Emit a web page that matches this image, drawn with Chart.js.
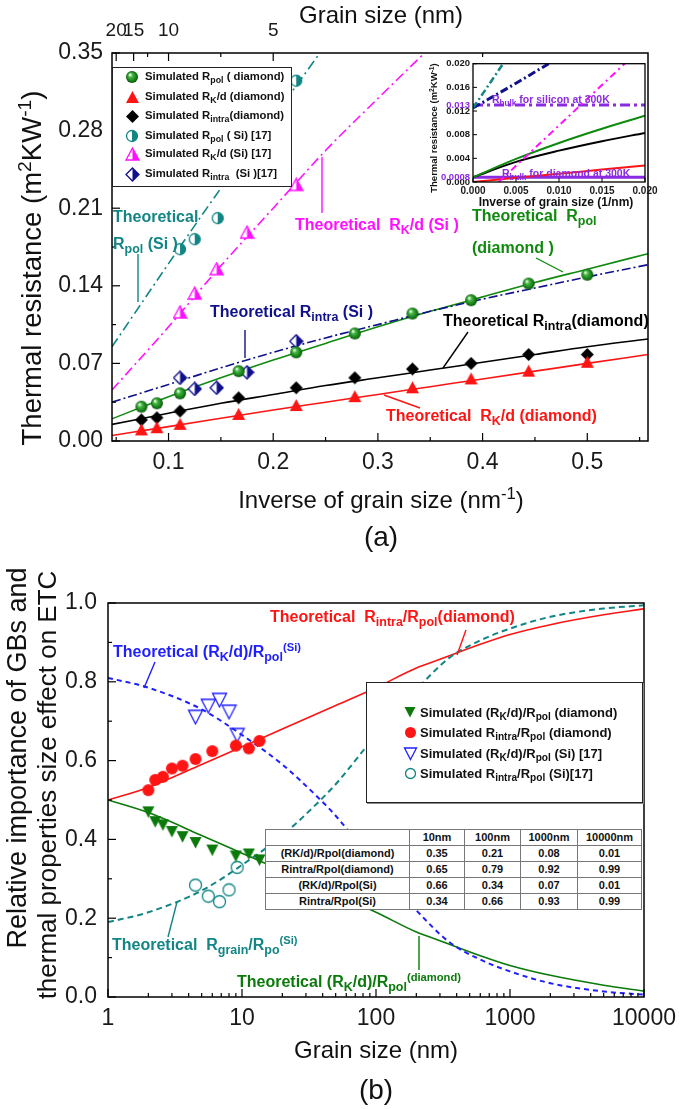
<!DOCTYPE html>
<html>
<head>
<meta charset="utf-8">
<script src="https://cdn.jsdelivr.net/npm/chart.js@4.4.1/dist/chart.umd.min.js"></script>
<style>
  body { margin: 0; background: #fff; }
  #page { position: relative; width: 685px; height: 1109px; overflow: hidden;
          font-family: "Liberation Sans", Arial, sans-serif; color: #111; }
  #page canvas { position: absolute; }
  .t { position: absolute; white-space: nowrap; line-height: 1; transform: translateY(-50%);
       font-weight: bold; font-size: 16px; }
  .c { position: absolute; white-space: nowrap; line-height: 1; transform: translate(-50%, -50%); }
  .rot { transform: translate(-50%, -50%) rotate(-90deg); }
  #page sub { font-size: 0.78em; vertical-align: -0.35em; line-height: 0; }
  #page sup { font-size: 0.7em; vertical-align: 0.55em; line-height: 0; }
  .box { position: absolute; background: #fff; border: 1px solid #222; box-sizing: border-box; }
  .row { position: absolute; white-space: nowrap; font-weight: bold; line-height: 1; transform: translateY(-50%); }
  #ratioTable { position: absolute; border-collapse: collapse; background: #fff; table-layout: fixed;
                font-weight: bold; font-size: 11px; border: 1.5px solid #444; }
  #ratioTable td { border: 1px solid #777; text-align: center; padding: 0; height: 15px; line-height: 1; }
</style>
</head>
<body>
<div id="page">
  <canvas id="chartA" width="685" height="560" style="left:0;top:0"></canvas>
  <canvas id="chartB" width="685" height="549" style="left:0;top:560px"></canvas>
  <canvas id="chartInset" width="245" height="160" style="left:420px;top:55px"></canvas>

  <svg width="685" height="1109" style="position:absolute;left:0;top:0">
    <g stroke-width="1.4">
      <line x1="138" y1="254" x2="138" y2="302" stroke="#138585"/>
      <line x1="322" y1="157" x2="322" y2="213" stroke="#ff10ff"/>
      <line x1="245" y1="330" x2="245" y2="358" stroke="#10108c"/>
      <line x1="468" y1="332" x2="443" y2="368" stroke="#000"/>
      <line x1="384" y1="395" x2="420" y2="408" stroke="#ff1414"/>
      <line x1="536" y1="258" x2="563" y2="272" stroke="#0f8a0f"/>
      <line x1="155" y1="662" x2="144" y2="688" stroke="#1e1eff"/>
      <line x1="466" y1="630" x2="457" y2="655" stroke="#ff1414"/>
      <line x1="177" y1="902" x2="168" y2="937" stroke="#138585"/>
      <line x1="419" y1="936" x2="419" y2="970" stroke="#0b7a0b"/>
    </g>
  </svg>

  <!-- panel (a) titles -->
  <div class="c" style="left:381px;top:15px;font-size:24px">Grain size (nm)</div>
  <div class="c" style="left:381px;top:500px;font-size:24px">Inverse of grain size (nm<sup>-1</sup>)</div>
  <div class="c" style="left:381px;top:537px;font-size:28px">(a)</div>
  <div class="c rot" style="left:32px;top:268px;font-size:27.5px">Thermal resistance (m<sup>2</sup>KW<sup>-1</sup>)</div>

  <!-- panel (a) annotations -->
  <div class="t" style="left:113px;top:217px;color:#138585">Theoretical</div>
  <div class="t" style="left:113px;top:244px;color:#138585">R<sub>pol</sub> (Si )</div>
  <div class="t" style="left:295px;top:225px;color:#ff10ff">Theoretical&nbsp; R<sub>K</sub>/d (Si )</div>
  <div class="t" style="left:472px;top:216px;color:#0f8a0f">Theoretical&nbsp; R<sub>pol</sub></div>
  <div class="t" style="left:472px;top:248px;color:#0f8a0f">(diamond )</div>
  <div class="t" style="left:210px;top:312px;color:#10108c">Theoretical R<sub>intra</sub> (Si )</div>
  <div class="t" style="left:443px;top:321px;color:#000">Theoretical R<sub>intra</sub>(diamond)</div>
  <div class="t" style="left:386px;top:416px;color:#ff1414">Theoretical&nbsp; R<sub>K</sub>/d (diamond)</div>

  <!-- inset texts -->
  <div class="t" style="left:492px;top:99px;color:#8a2be2;font-size:10.5px">R<sub>bulk</sub> for silicon at 300K</div>
  <div class="t" style="left:502px;top:173px;color:#8a2be2;font-size:10.5px">R<sub>bulk</sub> for diamond at 300K</div>
  <div class="c" style="left:556px;top:202px;font-size:12px;font-weight:bold">Inverse of grain size (1/nm)</div>
  <div class="c rot" style="left:434px;top:128px;font-size:9.5px;font-weight:bold">Thermal resistance (m<sup>2</sup>KW<sup>-1</sup>)</div>

  <div id="legendA" class="box" style="left:112px;top:67px;width:180px;height:120px"></div>

  <!-- panel (b) titles -->
  <div class="c" style="left:376px;top:1050px;font-size:24px">Grain size (nm)</div>
  <div class="c" style="left:376px;top:1090px;font-size:28px">(b)</div>
  <div class="c rot" style="left:17px;top:758px;font-size:27px">Relative importance of GBs and</div>
  <div class="c rot" style="left:47px;top:785px;font-size:26px">thermal properties size effect on ETC</div>

  <!-- panel (b) annotations -->
  <div class="t" style="left:270px;top:617px;color:#ff1414">Theoretical&nbsp; R<sub>intra</sub>/R<sub>pol</sub>(diamond)</div>
  <div class="t" style="left:113px;top:652px;color:#1e1eff">Theoretical (R<sub>K</sub>/d)/R<sub>pol</sub><sup>(Si)</sup></div>
  <div class="t" style="left:112px;top:945px;color:#138585">Theoretical&nbsp; R<sub>grain</sub>/R<sub>po</sub><sup>(Si)</sup></div>
  <div class="t" style="left:237px;top:982px;color:#0b7a0b">Theoretical (R<sub>K</sub>/d)/R<sub>pol</sub><sup>(diamond)</sup></div>

  <div id="legendB" class="box" style="left:366px;top:682px;width:277px;height:121px;box-shadow:1px 1px 0 #888"></div>
  <table id="ratioTable" style="left:265px;top:829px;width:376px"></table>
</div>

<script>
// ---------- panel (a): thermal resistance vs inverse grain size ----------
const invSizeSim = [0.0741, 0.0889, 0.111, 0.167, 0.222, 0.278, 0.333, 0.389, 0.444, 0.5];
const simRpolDiamond = [0.031, 0.034, 0.043, 0.063, 0.080, 0.097, 0.115, 0.127, 0.142, 0.150];
const simRkdDiamond = [0.010, 0.012, 0.015, 0.024, 0.032, 0.040, 0.048, 0.056, 0.063, 0.071];
const simRintraDiamond = [0.019, 0.021, 0.027, 0.039, 0.048, 0.057, 0.065, 0.070, 0.078, 0.078];

const invSizeSiPol = [0.111, 0.125, 0.147, 0.222];
const simRpolSi = [0.173, 0.182, 0.201, 0.325];
const invSizeSi = [0.111, 0.125, 0.146, 0.175, 0.222];
const simRkdSi = [0.116, 0.133, 0.155, 0.188, 0.231];
const simRintraSi = [0.057, 0.047, 0.048, 0.062, 0.090];

const invSizeTheory = [0.046, 0.1, 0.15, 0.2, 0.25, 0.3, 0.35, 0.4, 0.45, 0.5, 0.558];
const thRpolDiamond = [0.020, 0.040, 0.057, 0.073, 0.088, 0.103, 0.117, 0.130, 0.143, 0.155, 0.169];
const thRintraDiamond = [0.015, 0.025, 0.034, 0.042, 0.050, 0.057, 0.064, 0.071, 0.078, 0.085, 0.092];
const thRkdDiamond = [0.005, 0.013, 0.0205, 0.028, 0.035, 0.042, 0.049, 0.056, 0.063, 0.070, 0.078];
const thRintraSi = [0.035, 0.051, 0.066, 0.080, 0.093, 0.105, 0.117, 0.128, 0.138, 0.148, 0.159];
const invSizeThPolSi = [0.046, 0.1, 0.15, 0.2, 0.25];
const thRpolSi = [0.085, 0.160, 0.228, 0.292, 0.357];
const invSizeThKdSi = [0.046, 0.1, 0.15, 0.2, 0.25, 0.3, 0.35];
const thRkdSi = [0.046, 0.103, 0.158, 0.210, 0.262, 0.309, 0.355];

const xTicksA = [0.1, 0.2, 0.3, 0.4, 0.5];
const xMinorA = [0.05, 0.15, 0.25, 0.35, 0.45, 0.55];
const yTicksA = [0, 0.07, 0.14, 0.21, 0.28, 0.35];
const yMinorA = [0.035, 0.105, 0.175, 0.245, 0.315];
const topSizes = [20, 15, 10, 5];
const topMinorSizes = [12.5, 6.67, 2.5];

// inset
const insetX = [0, 0.005, 0.01, 0.015, 0.02];
const insetRpolDiamond = [0.0008, 0.0039, 0.0066, 0.0090, 0.0112];
const insetRintraDiamond = [0.0008, 0.0034, 0.0053, 0.0069, 0.0083];
const insetRkdDiamond = [0.0000, 0.0007, 0.0014, 0.0021, 0.0028];
const insetRpolSiX = [0, 0.0035];
const insetRpolSi = [0.0125, 0.0200];
const insetRintraSiX = [0, 0.005, 0.0088];
const insetRintraSi = [0.0125, 0.0167, 0.0200];
const insetRkdSiX = [0.003, 0.018];
const insetRkdSi = [0.0000, 0.0205];
const rBulkSi = 0.013;
const rBulkDiamond = 0.0008;
const insetXTicks = [0, 0.005, 0.01, 0.015, 0.02];
const insetYTicks = [0, 0.004, 0.008, 0.012, 0.016, 0.02];
const insetYMarks = [0.0008, 0.013];

// ---------- panel (b): relative importance vs grain size ----------
const sizeSimDiamond = [2.0, 2.25, 2.57, 3.0, 3.6, 4.5, 6.0, 9.0, 11.25, 13.5];
const simKdRatioDiamond = [0.470, 0.445, 0.437, 0.420, 0.407, 0.392, 0.373, 0.358, 0.363, 0.348];
const simIntraRatioDiamond = [0.525, 0.551, 0.559, 0.580, 0.587, 0.604, 0.624, 0.638, 0.631, 0.650];
const sizeSimSi = [4.5, 5.6, 6.8, 8.0, 9.2];
const simKdRatioSi = [0.711, 0.739, 0.754, 0.724, 0.665];
const simIntraRatioSi = [0.284, 0.256, 0.242, 0.272, 0.329];

const sizeTheoryDiamond = [1, 2, 5, 10, 20, 50, 100, 200, 300, 600, 1000, 2000, 5000, 10000];
const thIntraRatioDiamond = [0.50, 0.532, 0.59, 0.635, 0.68, 0.74, 0.785, 0.835, 0.857, 0.895, 0.92, 0.945, 0.97, 0.985];
const thKdRatioDiamond = [0.50, 0.468, 0.41, 0.365, 0.32, 0.26, 0.215, 0.165, 0.143, 0.105, 0.08, 0.055, 0.03, 0.015];
const sizeTheorySi = [1, 2, 5, 10, 20, 36, 50, 100, 200, 350, 600, 1000, 2000, 5000, 10000];
const thKdRatioSi = [0.81, 0.785, 0.73, 0.665, 0.59, 0.51, 0.46, 0.335, 0.22, 0.14, 0.095, 0.065, 0.035, 0.014, 0.006];
const thGrainRatioSi = [0.19, 0.215, 0.27, 0.335, 0.41, 0.49, 0.54, 0.665, 0.78, 0.86, 0.905, 0.935, 0.965, 0.986, 0.994];

const sizeTicksB = [1, 10, 100, 1000, 10000];
const sizeMinorB = [2, 3, 4, 5, 6, 7, 8, 9, 20, 30, 40, 50, 60, 70, 80, 90,
  200, 300, 400, 500, 600, 700, 800, 900, 2000, 3000, 4000, 5000, 6000, 7000, 8000, 9000];
const yTicksB = [0, 0.2, 0.4, 0.6, 0.8, 1.0];
const yMinorB = [0.1, 0.3, 0.5, 0.7, 0.9];

const tableCols = ['10nm', '100nm', '1000nm', '10000nm'];
const tableRows = ['(RK/d)/Rpol(diamond)', 'Rintra/Rpol(diamond)', '(RK/d)/Rpol(Si)', 'Rintra/Rpol(Si)'];
const tableVals = [
  [0.35, 0.21, 0.08, 0.01],
  [0.65, 0.79, 0.92, 0.99],
  [0.66, 0.34, 0.07, 0.01],
  [0.34, 0.66, 0.93, 0.99],
];

// ---------- styling ----------
const FONT = '"Liberation Sans", Arial, sans-serif';
Chart.defaults.font.family = FONT;
Chart.defaults.color = '#1a1a1a';

const GREEN = '#0f8a0f', RED = '#ff1414', BLACK = '#000000', TEAL = '#138585',
  MAGENTA = '#ff10ff', NAVY = '#10108c', BLUE = '#1e1eff', PURPLE = '#8a2be2', DKGREEN = '#0b7a0b';

function marker(kind, color, size) {
  const c = document.createElement('canvas');
  c.width = c.height = size;
  const g = c.getContext('2d');
  const m = size / 2, r = size / 2 - 1;
  const poly = (p) => { g.beginPath(); p.forEach(([x, y], i) => (i ? g.lineTo(x, y) : g.moveTo(x, y))); g.closePath(); };
  const tri = [[m, 1], [size - 1, size - 2], [1, size - 2]];
  const triDown = [[m, size - 1.5], [size - 1.5, 2], [1.5, 2]];
  const dia = [[m, 1], [size - 1, m], [m, size - 1], [1, m]];
  g.fillStyle = color; g.strokeStyle = color; g.lineWidth = 1.3;
  switch (kind) {
    case 'sphere': {
      const grad = g.createRadialGradient(m - r * 0.35, m - r * 0.4, r * 0.1, m, m, r);
      grad.addColorStop(0, '#dfffd8'); grad.addColorStop(0.3, '#44b444');
      grad.addColorStop(0.8, '#137a13'); grad.addColorStop(1, '#0a500a');
      g.fillStyle = grad; g.beginPath(); g.arc(m, m, r, 0, 2 * Math.PI); g.fill();
      break;
    }
    case 'circle': g.beginPath(); g.arc(m, m, r, 0, 2 * Math.PI); g.fill(); break;
    case 'openCircle': g.beginPath(); g.arc(m, m, r - 0.5, 0, 2 * Math.PI); g.stroke(); break;
    case 'triangle': poly(tri); g.fill(); break;
    case 'triangleDown': poly(triDown); g.fill(); break;
    case 'openTriangleDown': poly(triDown); g.stroke(); break;
    case 'diamond': poly(dia); g.fill(); break;
    case 'halfCircle':
      g.beginPath(); g.arc(m, m, r - 0.5, 0, 2 * Math.PI); g.fillStyle = '#fff'; g.fill();
      g.beginPath(); g.arc(m, m, r - 0.5, -Math.PI / 2, Math.PI / 2); g.closePath();
      g.fillStyle = color; g.fill();
      g.beginPath(); g.arc(m, m, r - 0.5, 0, 2 * Math.PI); g.stroke();
      break;
    case 'halfTriangle':
      poly(tri); g.fillStyle = '#fff'; g.fill();
      poly([[m, 1], [size - 1, size - 2], [m, size - 2]]); g.fillStyle = color; g.fill();
      poly(tri); g.stroke();
      break;
    case 'halfDiamond':
      poly(dia); g.fillStyle = '#fff'; g.fill();
      poly([[m, 1], [size - 1, m], [m, size - 1]]); g.fillStyle = color; g.fill();
      poly(dia); g.stroke();
      break;
  }
  return c;
}

// frame box with inward tick marks, positioned through the chart's scales
const frameTicks = {
  id: 'frameTicks',
  afterDatasetsDraw(chart, args, opts) {
    const { ctx, chartArea: a } = chart;
    ctx.save();
    ctx.strokeStyle = '#000';
    ctx.lineWidth = opts.lineWidth || 1.5;
    ctx.strokeRect(a.left, a.top, a.right - a.left, a.bottom - a.top);
    ctx.lineWidth = opts.tickWidth || 1.2;
    for (const side of opts.sides || []) {
      const sc = chart.scales[side.scale];
      const mark = (v, len) => {
        const p = sc.getPixelForValue(v);
        ctx.beginPath();
        if (side.edge === 'bottom') { ctx.moveTo(p, a.bottom); ctx.lineTo(p, a.bottom - len); }
        if (side.edge === 'top') { ctx.moveTo(p, a.top); ctx.lineTo(p, a.top + len); }
        if (side.edge === 'left') { ctx.moveTo(a.left, p); ctx.lineTo(a.left + len, p); }
        ctx.stroke();
      };
      (side.major || []).forEach(v => mark(v, opts.majorLen));
      (side.minor || []).forEach(v => mark(v, opts.minorLen));
    }
    ctx.restore();
  }
};

const pts = (xs, ys) => xs.map((x, i) => ({ x, y: ys[i] }));
const line = (data, color, width, dash) => ({
  data, showLine: true, borderColor: color, borderWidth: width, borderDash: dash || [],
  pointRadius: 0, fill: false, cubicInterpolationMode: 'monotone', order: 2
});
const dots = (data, style) => ({ data, showLine: false, pointStyle: style, pointRadius: 6, order: 1 });
const noGrid = { display: false, drawTicks: false };
const font = (size, bold) => ({ family: FONT, size, weight: bold ? 'bold' : 'normal' });
const fixTicks = (vals) => (s) => { s.ticks = vals.map(v => ({ value: v })); };
const baseOptions = (padding, frame) => ({
  responsive: false, animation: false, events: [],
  layout: { padding },
  plugins: { legend: { display: false }, tooltip: { enabled: false }, frameTicks: frame },
});

// ---------- chart (a) ----------
new Chart(document.getElementById('chartA'), {
  type: 'scatter',
  plugins: [frameTicks],
  data: {
    datasets: [
      line(pts(invSizeThPolSi, thRpolSi), TEAL, 1.6, [10, 4, 2, 4]),
      line(pts(invSizeThKdSi, thRkdSi), MAGENTA, 1.6, [10, 4, 2, 4]),
      line(pts(invSizeTheory, thRintraSi), NAVY, 1.6, [9, 3, 2, 3]),
      line(pts(invSizeTheory, thRpolDiamond), GREEN, 1.6),
      line(pts(invSizeTheory, thRintraDiamond), BLACK, 1.6),
      line(pts(invSizeTheory, thRkdDiamond), RED, 1.6),
      dots(pts(invSizeSim, simRpolDiamond), marker('sphere', GREEN, 14)),
      dots(pts(invSizeSim, simRkdDiamond), marker('triangle', RED, 15)),
      dots(pts(invSizeSim, simRintraDiamond), marker('diamond', BLACK, 15)),
      dots(pts(invSizeSiPol, simRpolSi), marker('halfCircle', TEAL, 14)),
      dots(pts(invSizeSi, simRkdSi), marker('halfTriangle', MAGENTA, 15)),
      dots(pts(invSizeSi, simRintraSi), marker('halfDiamond', NAVY, 15)),
    ]
  },
  options: Object.assign(baseOptions({ top: 0, right: 37, bottom: 0, left: 0 }, {
    majorLen: 8, minorLen: 4,
    sides: [
      { scale: 'x', edge: 'bottom', major: xTicksA, minor: xMinorA },
      { scale: 'x2', edge: 'top', major: topSizes.map(d => 1 / d), minor: topMinorSizes.map(d => 1 / d) },
      { scale: 'y', edge: 'left', major: yTicksA, minor: yMinorA },
    ]
  }), {
    scales: {
      x: {
        type: 'linear', position: 'bottom', min: 0.046, max: 0.558,
        grid: noGrid, border: { display: false },
        afterFit: s => { s.height = 119; },
        afterBuildTicks: fixTicks(xTicksA),
        ticks: { padding: 8, font: font(23), autoSkip: false, maxRotation: 0, callback: v => v.toFixed(1) }
      },
      x2: {
        type: 'linear', position: 'top', min: 0.046, max: 0.558,
        grid: noGrid, border: { display: false },
        afterFit: s => { s.height = 53; },
        afterBuildTicks: fixTicks(topSizes.map(d => 1 / d)),
        ticks: { padding: 11, font: font(19), autoSkip: false, maxRotation: 0, callback: (v, i) => String(topSizes[i]) }
      },
      y: {
        min: 0, max: 0.35,
        grid: noGrid, border: { display: false },
        afterFit: s => { s.width = 112; },
        afterBuildTicks: fixTicks(yTicksA),
        ticks: { padding: 9, font: font(23), autoSkip: false, callback: v => v.toFixed(2) }
      }
    }
  })
});

// ---------- inset of (a) ----------
new Chart(document.getElementById('chartInset'), {
  type: 'scatter',
  plugins: [frameTicks],
  data: {
    datasets: [
      line(pts(insetRpolSiX, insetRpolSi), TEAL, 2.5, [7, 3, 2, 3]),
      line(pts(insetRintraSiX, insetRintraSi), NAVY, 3, [8, 3, 2, 3]),
      line(pts(insetRkdSiX, insetRkdSi), MAGENTA, 2, [7, 4, 2, 4]),
      line(pts(insetX, insetRpolDiamond), GREEN, 2),
      line(pts(insetX, insetRintraDiamond), BLACK, 2),
      line(pts(insetX, insetRkdDiamond), RED, 2),
      line(pts([0, 0.02], [rBulkSi, rBulkSi]), PURPLE, 3, [10, 4, 3, 4]),
      line(pts([0, 0.02], [rBulkDiamond, rBulkDiamond]), PURPLE, 3),
    ]
  },
  options: Object.assign(baseOptions({ top: 8, right: 20, bottom: 0, left: 0 }, {
    majorLen: 4, minorLen: 2, lineWidth: 1.3, tickWidth: 1,
    sides: [
      { scale: 'x', edge: 'bottom', major: insetXTicks },
      { scale: 'y', edge: 'left', major: insetYTicks },
    ]
  }), {
    scales: {
      x: {
        type: 'linear', min: 0, max: 0.02,
        grid: noGrid, border: { display: false },
        afterFit: s => { s.height = 33; },
        afterBuildTicks: fixTicks(insetXTicks),
        ticks: { padding: 3, font: font(10, true), autoSkip: false, maxRotation: 0, callback: v => v.toFixed(3) }
      },
      y: {
        min: 0, max: 0.02,
        grid: noGrid, border: { display: false },
        afterFit: s => { s.width = 53; },
        afterBuildTicks: fixTicks(insetYTicks.concat(insetYMarks).sort((a, b) => a - b)),
        ticks: {
          padding: 3, font: font(9.5, true), autoSkip: false,
          color: c => (insetYMarks.includes(c.tick.value) ? PURPLE : '#1a1a1a'),
          callback: v => (insetYMarks.includes(v) ? String(v) : v.toFixed(3))
        }
      }
    }
  })
});

// ---------- chart (b) ----------
new Chart(document.getElementById('chartB'), {
  type: 'scatter',
  plugins: [frameTicks],
  data: {
    datasets: [
      line(pts(sizeTheorySi, thKdRatioSi), BLUE, 2, [5, 4]),
      line(pts(sizeTheorySi, thGrainRatioSi), TEAL, 2, [6, 4]),
      line(pts(sizeTheoryDiamond, thIntraRatioDiamond), RED, 1.6),
      line(pts(sizeTheoryDiamond, thKdRatioDiamond), DKGREEN, 1.6),
      dots(pts(sizeSimDiamond, simKdRatioDiamond), marker('triangleDown', DKGREEN, 15)),
      dots(pts(sizeSimDiamond, simIntraRatioDiamond), marker('circle', RED, 14)),
      dots(pts(sizeSimSi, simKdRatioSi), marker('openTriangleDown', BLUE, 17)),
      dots(pts(sizeSimSi, simIntraRatioSi), marker('openCircle', TEAL, 15)),
    ]
  },
  options: Object.assign(baseOptions({ top: 43, right: 41, bottom: 0, left: 0 }, {
    majorLen: 8, minorLen: 4,
    sides: [
      { scale: 'x', edge: 'bottom', major: sizeTicksB, minor: sizeMinorB },
      { scale: 'y', edge: 'left', major: yTicksB, minor: yMinorB },
    ]
  }), {
    scales: {
      x: {
        type: 'logarithmic', min: 1, max: 10000,
        grid: noGrid, border: { display: false },
        afterFit: s => { s.height = 112; },
        afterBuildTicks: fixTicks(sizeTicksB),
        ticks: { padding: 8, font: font(23), autoSkip: false, maxRotation: 0, callback: v => String(v) }
      },
      y: {
        min: 0, max: 1,
        grid: noGrid, border: { display: false },
        afterFit: s => { s.width = 108; },
        afterBuildTicks: fixTicks(yTicksB),
        ticks: { padding: 11, font: font(23), autoSkip: false, callback: v => v.toFixed(1) }
      }
    }
  })
});

// ---------- legends and table ----------
function buildLegend(id, entries, markerX, textX, rowYs, fontSize) {
  const box = document.getElementById(id);
  entries.forEach((e, i) => {
    const c = marker(e.kind, e.color, e.size);
    c.style.left = (markerX - e.size / 2) + 'px';
    c.style.top = (rowYs[i] - e.size / 2) + 'px';
    box.appendChild(c);
    const t = document.createElement('div');
    t.className = 'row';
    t.style.left = textX + 'px';
    t.style.top = rowYs[i] + 'px';
    t.style.fontSize = fontSize + 'px';
    t.innerHTML = e.label;
    box.appendChild(t);
  });
}

buildLegend('legendA', [
  { kind: 'sphere', color: GREEN, size: 14, label: 'Simulated R<sub>pol</sub> ( diamond)' },
  { kind: 'triangle', color: RED, size: 15, label: 'Simulated R<sub>K</sub>/d (diamond)' },
  { kind: 'diamond', color: BLACK, size: 15, label: 'Simulated R<sub>intra</sub>(diamond)' },
  { kind: 'halfCircle', color: TEAL, size: 14, label: 'Simulated R<sub>pol</sub> ( Si) [17]' },
  { kind: 'halfTriangle', color: MAGENTA, size: 15, label: 'Simulated R<sub>K</sub>/d (Si) [17]' },
  { kind: 'halfDiamond', color: NAVY, size: 15, label: 'Simulated R<sub>intra</sub> &nbsp;(Si )[17]' },
], 19, 32, [9, 29, 48, 68, 86, 106], 11.3);

buildLegend('legendB', [
  { kind: 'triangleDown', color: DKGREEN, size: 14, label: 'Simulated (R<sub>K</sub>/d)/R<sub>pol</sub> (diamond)' },
  { kind: 'circle', color: RED, size: 13, label: 'Simulated R<sub>intra</sub>/R<sub>pol</sub> (diamond)' },
  { kind: 'openTriangleDown', color: BLUE, size: 15, label: 'Simulated (R<sub>K</sub>/d)/R<sub>pol</sub> (Si) [17]' },
  { kind: 'openCircle', color: TEAL, size: 13, label: 'Simulated R<sub>intra</sub>/R<sub>pol</sub> (Si)[17]' },
], 43, 53, [29, 49, 70, 90], 13);

const colWidths = [144, 55, 56, 57, 64];
let html = '<colgroup>' + colWidths.map(w => `<col style="width:${w}px">`).join('') + '</colgroup>';
html += '<tr><td></td>' + tableCols.map(c => `<td>${c}</td>`).join('') + '</tr>';
tableRows.forEach((r, i) => {
  html += `<tr><td>${r}</td>` + tableVals[i].map(v => `<td>${v.toFixed(2)}</td>`).join('') + '</tr>';
});
document.getElementById('ratioTable').innerHTML = html;
</script>
</body>
</html>
